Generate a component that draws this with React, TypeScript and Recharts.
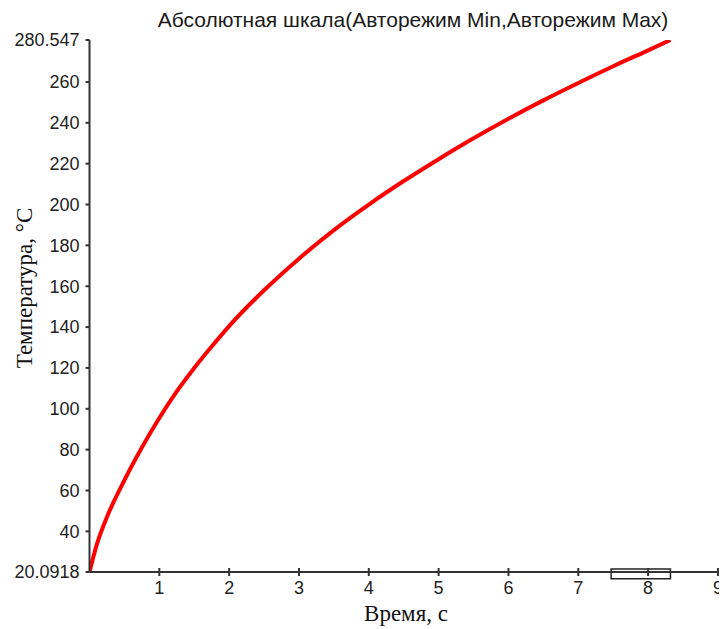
import { Line, LineChart, ReferenceArea, XAxis, YAxis } from "recharts";

const times = [0, 0.1, 0.25, 0.5, 0.75, 1, 1.25, 1.5, 1.75, 2, 2.5, 3, 3.5, 4, 4.5, 5, 5.5, 6, 6.5, 7, 7.5, 8, 8.32];
const temps = [
  20.0918, 33, 47, 65, 81, 95.5, 108.5, 120, 130.5, 140.5, 158, 173.5, 187.5, 200, 211.5, 222.2, 232.4, 242, 251,
  259.5, 267.7, 275.5, 280.547,
];
const xTicks = [1, 2, 3, 4, 5, 6, 7, 8, 9];
const yTicks = [20.0918, 40, 60, 80, 100, 120, 140, 160, 180, 200, 220, 240, 260, 280.547];
const xDomain = [0, 9.13];
const yDomain = [20.0918, 280.547];
// little box sitting on the time axis (scroll thumb)
const thumbX = [7.47, 8.32];
const thumbY = [16.8, 21.56];

const data = times.map((t, i) => ({ t, temp: temps[i] }));

const sans = "'Liberation Sans', Arial, sans-serif";
const serif = "'Liberation Serif', 'Times New Roman', serif";
const axisColor = "#333";
const textColor = "#222";

function TimeTick(props: any) {
  const { x, y, payload } = props;
  return (
    <g>
      <line x1={x} x2={x} y1={y - 4} y2={y + 4} stroke={axisColor} strokeWidth={2} />
      <text x={x} y={y + 22} textAnchor="middle" fill={textColor} fontSize={18} fontFamily={sans}>
        {payload.value}
      </text>
    </g>
  );
}

export default function App() {
  return (
    <div style={{ position: "relative", width: 719, height: 621 }}>
      <div
        style={{
          position: "absolute",
          left: 405,
          top: 0,
          transform: "translateX(-50%)",
          whiteSpace: "nowrap",
          fontFamily: sans,
          fontSize: 21,
          color: "#1a1a1a",
        }}
      >
        Абсолютная шкала(Авторежим Min,Авторежим Max)
      </div>
      <div
        style={{
          position: "absolute",
          left: 17,
          top: 280,
          transform: "translate(-50%, -50%) rotate(-90deg)",
          whiteSpace: "nowrap",
          fontFamily: serif,
          fontSize: 23,
          color: "#111",
        }}
      >
        Температура, °С
      </div>
      <div
        style={{
          position: "absolute",
          left: 398,
          top: 593,
          transform: "translateX(-50%)",
          whiteSpace: "nowrap",
          fontFamily: serif,
          fontSize: 23,
          lineHeight: "26px",
          color: "#111",
        }}
      >
        Время, с
      </div>
      <LineChart width={719} height={621} data={data} margin={{ top: 32, right: 0, bottom: 27, left: 9.5 }}>
        <XAxis
          dataKey="t"
          type="number"
          domain={xDomain}
          ticks={xTicks}
          allowDataOverflow
          height={30}
          axisLine={{ stroke: axisColor, strokeWidth: 2 }}
          tickLine={false}
          tickSize={0}
          tickMargin={0}
          tick={<TimeTick />}
        />
        <YAxis
          type="number"
          domain={yDomain}
          ticks={yTicks}
          allowDataOverflow
          width={72}
          interval={0}
          axisLine={{ stroke: axisColor, strokeWidth: 2 }}
          tickLine={{ stroke: axisColor, strokeWidth: 2 }}
          tickSize={4}
          tickMargin={6}
          tick={{ fill: textColor, fontSize: 18, fontFamily: sans }}
        />
        <ReferenceArea
          x1={thumbX[0]}
          x2={thumbX[1]}
          y1={thumbY[0]}
          y2={thumbY[1]}
          ifOverflow="visible"
          fill="#fff"
          fillOpacity={1}
          stroke="#222"
          strokeWidth={1.5}
        />
        <Line
          dataKey="temp"
          type="monotone"
          stroke="#ff0000"
          strokeWidth={4}
          dot={false}
          isAnimationActive={false}
        />
      </LineChart>
    </div>
  );
}
